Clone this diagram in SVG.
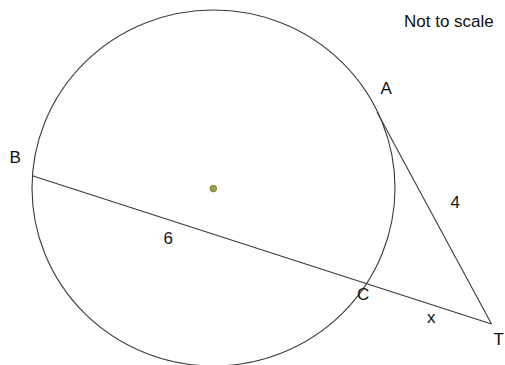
<svg xmlns="http://www.w3.org/2000/svg" width="505" height="365" viewBox="0 0 505 365">
<style>
.ln{fill:none;stroke:#3a3a3a;stroke-width:1.1}
.lb{font-family:"Liberation Sans",Arial,sans-serif;font-size:17px;fill:#111}
</style>
<rect width="505" height="365" fill="#fff"/>
<g id="circle"><ellipse class="ln" cx="213.5" cy="188" rx="181.5" ry="178"/></g>
<g id="center"><circle cx="213.3" cy="188.6" r="3.3" fill="#a3a342" stroke="#6b6b3a" stroke-width="0.8"/></g>
<g id="connectors">
<line class="ln" x1="32.3" y1="175.7" x2="491.5" y2="324"/>
<line class="ln" x1="377" y1="112" x2="491.5" y2="324"/>
</g>
<g id="labels">
<text class="lb" x="404" y="27" font-size="17.8px">Not to scale</text>
<text id="A" class="lb" x="380.5" y="94">A</text>
<text id="B" class="lb" x="9.5" y="163.3">B</text>
<text id="C" class="lb" x="357" y="300">C</text>
<text id="T" class="lb" x="493.5" y="345">T</text>
<text class="lb" x="163.5" y="244">6</text>
<text class="lb" x="450.5" y="208.3">4</text>
<text class="lb" x="427" y="323.3">x</text>
</g>
</svg>
